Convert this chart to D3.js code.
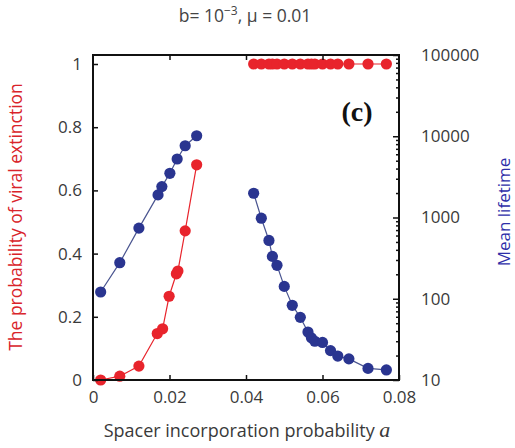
<!DOCTYPE html>
<html><head><meta charset="utf-8">
<script src="https://cdn.jsdelivr.net/npm/d3@7"></script>
<style>
html,body{margin:0;padding:0;background:#fff;}
svg{display:block;}
</style></head>
<body>
<svg id="chart" width="515" height="448" font-family="'Open Sans', sans-serif"></svg>
<script>
// ---- data ----
const redLeftA  = [0.002, 0.007, 0.012, 0.0168, 0.0182, 0.0199, 0.0218, 0.0222, 0.0241, 0.0271];
const redLeftP  = [0.0, 0.012, 0.044, 0.147, 0.162, 0.265, 0.336, 0.345, 0.472, 0.681];
const blueLeftA = [0.002, 0.007, 0.012, 0.017, 0.018, 0.0201, 0.022, 0.0241, 0.0271];
const blueLeftT = [121, 278, 740, 1898, 2399, 3500, 5250, 7640, 10140];
const rightA    = [0.0420, 0.0440, 0.0460, 0.0469, 0.0481, 0.0500, 0.0521, 0.0542, 0.0562, 0.0571, 0.0580, 0.0600, 0.0621, 0.0640, 0.0669, 0.0719, 0.0767];
const redRightP = [1, 1, 1, 1, 1, 1, 1, 1, 1, 1, 1, 1, 1, 1, 1, 1, 1];
const blueRightT= [1987, 980, 522, 332, 258, 142, 83, 59, 39, 33, 30, 29, 23, 19.7, 18.2, 13.9, 13.3];
const xTicks    = [0, 0.02, 0.04, 0.06, 0.08];
const yLeftTicks  = [0, 0.2, 0.4, 0.6, 0.8, 1];
const yRightTicks = [10, 100, 1000, 10000, 100000];

const svg = d3.select("#chart");
const L = 93, R = 399, T = 55, B = 380;

const x  = d3.scaleLinear().domain([0, 0.08]).range([L, R]);
const yL = d3.scaleLinear().domain([0, 1]).range([B, 64]);
const yR = d3.scaleLog().domain([10, 100000]).range([B, T]);

const labelColor = "#3a3a3a";
const red = "#e8242c", blue = "#2a3590";

// lines
const lineL = d3.line().x(d => x(d[0])).y(d => yL(d[1]));
const lineR = d3.line().x(d => x(d[0])).y(d => yR(d[1]));
const zip = (a, b) => a.map((v, i) => [v, b[i]]);

svg.append("path").datum(zip(redLeftA, redLeftP)).attr("d", lineL)
  .attr("fill", "none").attr("stroke", red).attr("stroke-width", 1.2);
svg.append("path").datum(zip(rightA, redRightP)).attr("d", lineL)
  .attr("fill", "none").attr("stroke", red).attr("stroke-width", 1.2);
svg.append("path").datum(zip(blueLeftA, blueLeftT)).attr("d", lineR)
  .attr("fill", "none").attr("stroke", "#4a5590").attr("stroke-width", 1.2);
svg.append("path").datum(zip(rightA, blueRightT)).attr("d", lineR)
  .attr("fill", "none").attr("stroke", "#4a5590").attr("stroke-width", 1.2);

// dots
function dots(data, ys, color) {
  svg.append("g").selectAll("circle").data(data).join("circle")
    .attr("cx", d => x(d[0])).attr("cy", d => ys(d[1])).attr("r", 5.6)
    .attr("fill", color);
}
dots(zip(redLeftA, redLeftP), yL, red);
dots(zip(rightA, redRightP), yL, red);
dots(zip(blueLeftA, blueLeftT), yR, blue);
dots(zip(rightA, blueRightT), yR, blue);

// axes
function style(g) {
  g.select(".domain").remove();
  g.selectAll(".tick line").attr("stroke", "#111").attr("stroke-width", 1.5);
  g.selectAll(".tick text").attr("fill", labelColor).attr("font-size", 17)
    .attr("font-family", "'Open Sans', sans-serif");
}
svg.append("g").attr("transform", `translate(0,${B})`)
  .call(d3.axisBottom(x).tickValues(xTicks).tickSize(-5).tickPadding(11).tickFormat(d3.format("~g")))
  .call(style);
svg.append("g").attr("transform", `translate(0,${T})`)
  .call(d3.axisTop(x).tickValues(xTicks.slice(1, -1)).tickSize(-5).tickFormat(""))
  .call(style);
svg.append("g").attr("transform", `translate(${L},0)`)
  .call(d3.axisLeft(yL).tickValues(yLeftTicks).tickSize(-5).tickPadding(11).tickFormat(d3.format("~g")))
  .call(style);
svg.append("g").attr("transform", `translate(${R},0)`)
  .call(d3.axisRight(yR).tickValues(yRightTicks).tickSize(-6).tickPadding(22).tickFormat(d3.format("d")))
  .call(style);
const minor = [];
yRightTicks.slice(0, -1).forEach(t => { for (let k = 2; k <= 9; k++) minor.push(t * k); });
svg.append("g").attr("transform", `translate(${R},0)`)
  .call(d3.axisRight(yR).tickValues(minor).tickSize(-3).tickFormat(""))
  .call(style);

// frame
svg.append("rect").attr("x", L).attr("y", T).attr("width", R - L).attr("height", B - T)
  .attr("fill", "none").attr("stroke", "#111").attr("stroke-width", 2);

// texts
const title = svg.append("text").attr("x", 245).attr("y", 22).attr("text-anchor", "middle")
  .attr("font-size", 17.5).attr("fill", "#444");
title.append("tspan").text("b= 10");
title.append("tspan").attr("dy", -7).attr("font-size", 12).text("−3");
title.append("tspan").attr("dy", 7).text(", μ = 0.01");

const xt = svg.append("text").attr("x", 247).attr("y", 437).attr("text-anchor", "middle")
  .attr("font-size", 18).attr("fill", labelColor);
xt.append("tspan").text("Spacer incorporation probability ");
xt.append("tspan").attr("font-family", "'Liberation Serif', serif").attr("font-style", "italic")
  .attr("font-size", 22).text("a");

svg.append("text").attr("transform", "translate(22,217) rotate(-90)").attr("text-anchor", "middle")
  .attr("font-size", 17.5).attr("fill", "#d9232a").text("The probability of viral  extinction");

svg.append("text").attr("transform", "translate(510,212) rotate(-90)").attr("text-anchor", "middle")
  .attr("font-size", 17).attr("fill", "#2e2ea8").text("Mean lifetime");

svg.append("text").attr("x", 357).attr("y", 121).attr("text-anchor", "middle")
  .attr("font-family", "'Liberation Serif', 'Times New Roman', serif").attr("font-weight", "bold")
  .attr("font-size", 28).attr("fill", "#111").text("(c)");
</script>
</body></html>
